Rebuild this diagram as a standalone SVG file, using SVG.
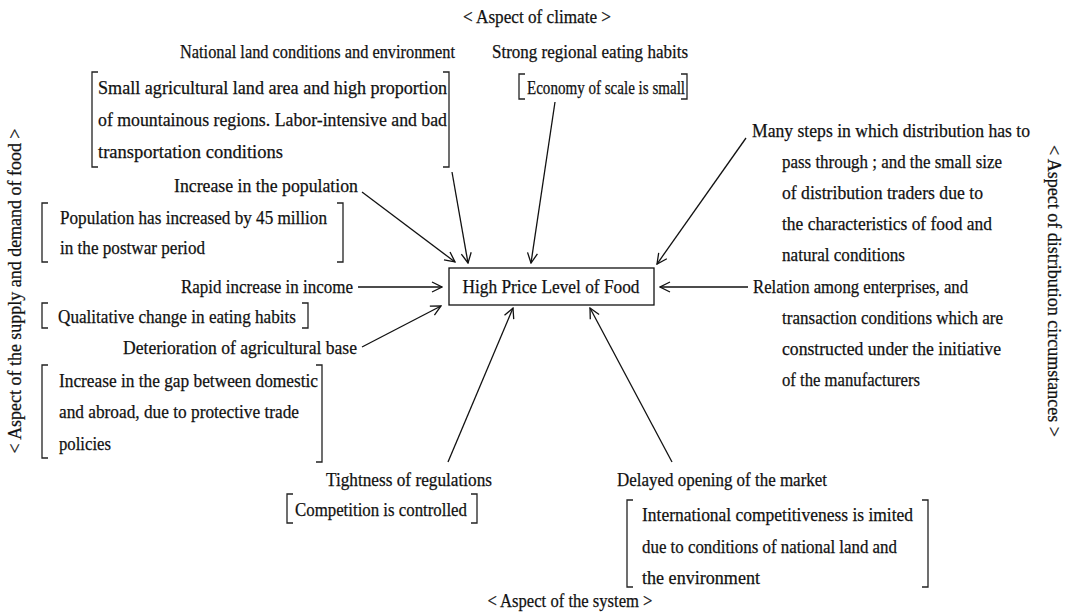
<svg xmlns="http://www.w3.org/2000/svg" width="1075" height="616" viewBox="0 0 1075 616">
<style>
text{font-family:"Liberation Serif","Times New Roman",serif;font-size:19px;fill:#111;stroke:#111;stroke-width:0.25}
.br{fill:none;stroke:#222;stroke-width:1.3}
.c{fill:none;stroke:#111;stroke-width:1.3}
</style>
<defs>
<marker id="ah" viewBox="0 0 12 12" refX="11" refY="6" markerWidth="12" markerHeight="12" markerUnits="userSpaceOnUse" orient="auto">
<path d="M1,1 L11,6 L1,11" fill="none" stroke="#111" stroke-width="1.3"/>
</marker>
</defs>
<rect width="1075" height="616" fill="#fff"/>

<g id="aspect-climate"><text x="537" y="23" text-anchor="middle" textLength="148" lengthAdjust="spacingAndGlyphs">&lt; Aspect of climate &gt;</text></g>
<g id="aspect-system"><text x="570" y="607" text-anchor="middle" textLength="165" lengthAdjust="spacingAndGlyphs">&lt; Aspect of the system &gt;</text></g>
<g id="aspect-supply"><text transform="translate(21,291) rotate(-90)" text-anchor="middle" textLength="325" lengthAdjust="spacingAndGlyphs">&lt; Aspect of the supply and demand of food &gt;</text></g>
<g id="aspect-distribution"><text transform="translate(1048,291) rotate(90)" text-anchor="middle" textLength="292" lengthAdjust="spacingAndGlyphs">&lt; Aspect of distribution circumstances &gt;</text></g>

<g id="center">
<rect x="449" y="268" width="205" height="37" fill="none" stroke="#111" stroke-width="1.3"/>
<text x="551" y="293" text-anchor="middle" textLength="177" lengthAdjust="spacingAndGlyphs">High Price Level of Food</text>
</g>

<g id="national-land">
<text x="180" y="58" textLength="275" lengthAdjust="spacingAndGlyphs">National land conditions and environment</text>
<path class="br" d="M98,72 H92 V167 H98"/>
<path class="br" d="M443,72 H449 V167 H443"/>
<text x="98" y="94" textLength="349" lengthAdjust="spacingAndGlyphs">Small agricultural land area and high proportion</text>
<text x="98" y="126" textLength="349" lengthAdjust="spacingAndGlyphs">of mountainous regions. Labor-intensive and bad</text>
<text x="98" y="158" textLength="185" lengthAdjust="spacingAndGlyphs">transportation conditions</text>
</g>

<g id="eating-habits">
<text x="492" y="58" textLength="196" lengthAdjust="spacingAndGlyphs">Strong regional eating habits</text>
<path class="br" d="M525,74 H519 V99 H525"/>
<path class="br" d="M681,74 H687 V99 H681"/>
<text x="527" y="94" textLength="158" lengthAdjust="spacingAndGlyphs">Economy of scale is small</text>
</g>

<g id="population">
<text x="174" y="192" textLength="184" lengthAdjust="spacingAndGlyphs">Increase in the population</text>
<path class="br" d="M48,203 H42 V262 H48"/>
<path class="br" d="M337,203 H343 V262 H337"/>
<text x="60" y="224" textLength="267" lengthAdjust="spacingAndGlyphs">Population has increased by 45 million</text>
<text x="60" y="254" textLength="145" lengthAdjust="spacingAndGlyphs">in the postwar period</text>
</g>

<g id="income">
<text x="181" y="293" textLength="172" lengthAdjust="spacingAndGlyphs">Rapid increase in income</text>
<path class="br" d="M48,303 H42 V328 H48"/>
<path class="br" d="M302,303 H308 V328 H302"/>
<text x="58" y="323" textLength="238" lengthAdjust="spacingAndGlyphs">Qualitative change in eating habits</text>
</g>

<g id="agri-base">
<text x="123" y="354" textLength="234" lengthAdjust="spacingAndGlyphs">Deterioration of agricultural base</text>
<path class="br" d="M48,365 H42 V458 H48"/>
<path class="br" d="M316,365 H322 V462 H316"/>
<text x="59" y="387" textLength="259" lengthAdjust="spacingAndGlyphs">Increase in the gap between domestic</text>
<text x="59" y="418" textLength="240" lengthAdjust="spacingAndGlyphs">and abroad, due to protective trade</text>
<text x="59" y="450" textLength="52" lengthAdjust="spacingAndGlyphs">policies</text>
</g>

<g id="regulations">
<text x="326" y="486" textLength="166" lengthAdjust="spacingAndGlyphs">Tightness of regulations</text>
<path class="br" d="M293,494 H287 V523 H293"/>
<path class="br" d="M471,494 H477 V523 H471"/>
<text x="295" y="516" textLength="172" lengthAdjust="spacingAndGlyphs">Competition is controlled</text>
</g>

<g id="market">
<text x="617" y="486" textLength="210" lengthAdjust="spacingAndGlyphs">Delayed opening of the market</text>
<path class="br" d="M633,500 H627 V587 H633"/>
<path class="br" d="M922,500 H928 V587 H922"/>
<text x="642" y="521" textLength="271" lengthAdjust="spacingAndGlyphs">International competitiveness is imited</text>
<text x="642" y="553" textLength="255" lengthAdjust="spacingAndGlyphs">due to conditions of national land and</text>
<text x="642" y="584" textLength="118" lengthAdjust="spacingAndGlyphs">the environment</text>
</g>

<g id="distribution-steps">
<text x="752" y="137" textLength="278" lengthAdjust="spacingAndGlyphs">Many steps in which distribution has to</text>
<text x="782" y="168" textLength="220" lengthAdjust="spacingAndGlyphs">pass through ; and the small size</text>
<text x="782" y="199" textLength="201" lengthAdjust="spacingAndGlyphs">of distribution traders due to</text>
<text x="782" y="230" textLength="210" lengthAdjust="spacingAndGlyphs">the characteristics of food and</text>
<text x="782" y="261" textLength="123" lengthAdjust="spacingAndGlyphs">natural conditions</text>
</g>

<g id="enterprises">
<text x="753" y="293" textLength="215" lengthAdjust="spacingAndGlyphs">Relation among enterprises, and</text>
<text x="782" y="324" textLength="221" lengthAdjust="spacingAndGlyphs">transaction conditions which are</text>
<text x="782" y="355" textLength="219" lengthAdjust="spacingAndGlyphs">constructed under the initiative</text>
<text x="782" y="386" textLength="138" lengthAdjust="spacingAndGlyphs">of the manufacturers</text>
</g>

<g id="connectors">
<line class="c" x1="452" y1="172" x2="468" y2="263" marker-end="url(#ah)"/>
<line class="c" x1="555" y1="102" x2="531" y2="263" marker-end="url(#ah)"/>
<line class="c" x1="362" y1="192" x2="455" y2="262" marker-end="url(#ah)"/>
<line class="c" x1="358" y1="287" x2="442" y2="287" marker-end="url(#ah)"/>
<line class="c" x1="362" y1="347" x2="441" y2="306" marker-end="url(#ah)"/>
<line class="c" x1="448" y1="462" x2="513" y2="308" marker-end="url(#ah)"/>
<line class="c" x1="672" y1="462" x2="590" y2="308" marker-end="url(#ah)"/>
<line class="c" x1="746" y1="138" x2="657" y2="264" marker-end="url(#ah)"/>
<line class="c" x1="748" y1="287" x2="660" y2="287" marker-end="url(#ah)"/>
</g>
</svg>
